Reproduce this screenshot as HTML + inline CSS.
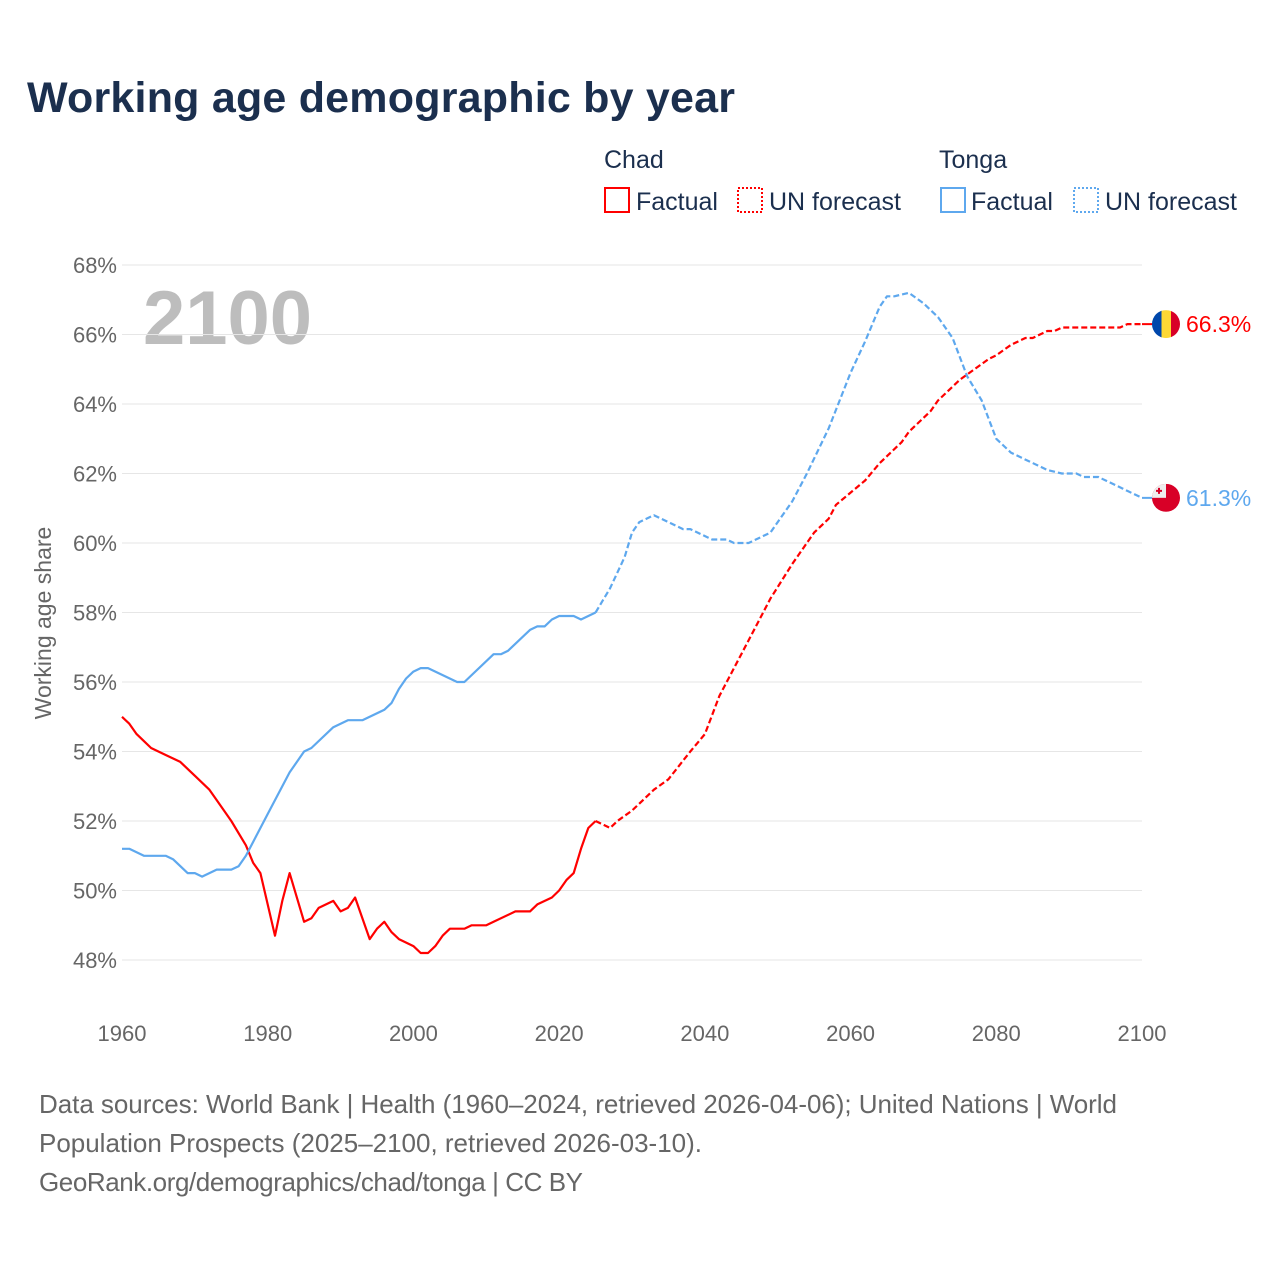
<!DOCTYPE html>
<html><head><meta charset="utf-8"><style>
body{margin:0;background:#fff;font-family:"Liberation Sans",sans-serif;}
svg text{font-family:"Liberation Sans",sans-serif;}
</style></head><body>
<svg width="1280" height="1280" viewBox="0 0 1280 1280" id="c">
<rect width="1280" height="1280" fill="#fff"/>
<text x="27" y="112" font-size="43" font-weight="bold" fill="#1b2f4e" textLength="708">Working age demographic by year</text>
<g font-size="25" fill="#1b2f4e">
<text x="604" y="168">Chad</text>
<text x="939" y="168">Tonga</text>
<rect x="605" y="188" width="24" height="24" fill="none" stroke="#f00" stroke-width="2"/>
<text x="636" y="210">Factual</text>
<rect x="738" y="188" width="24" height="24" fill="none" stroke="#f00" stroke-width="2" stroke-dasharray="2,2"/>
<text x="769" y="210">UN forecast</text>
<rect x="941" y="188" width="24" height="24" fill="none" stroke="#5ea8ee" stroke-width="2"/>
<text x="971" y="210">Factual</text>
<rect x="1074" y="188" width="24" height="24" fill="none" stroke="#5ea8ee" stroke-width="2" stroke-dasharray="2,2"/>
<text x="1105" y="210">UN forecast</text>
</g>
<text x="143" y="344" font-size="76" font-weight="bold" fill="#bdbdbd">2100</text>
<text transform="translate(51,623) rotate(-90)" text-anchor="middle" font-size="23" fill="#666">Working age share</text>
<g id="grid"></g><g id="lines"></g>
<g font-size="26" fill="#666">
<text x="39" y="1113" textLength="1078">Data sources: World Bank | Health (1960–2024, retrieved 2026-04-06); United Nations | World</text>
<text x="39" y="1152" textLength="663">Population Prospects (2025–2100, retrieved 2026-03-10).</text>
<text x="39" y="1191" textLength="544">GeoRank.org/demographics/chad/tonga | CC BY</text>
</g>
</svg>
<script>
const yTicks=[48,50,52,54,56,58,60,62,64,66,68];
const xTicks=[1960,1980,2000,2020,2040,2060,2080,2100];
const chadFactYears=[1960,1961,1962,1963,1964,1966,1968,1970,1972,1973,1975,1977,1978,1979,1981,1982,1983,1985,1986,1987,1989,1990,1991,1992,1994,1995,1996,1997,1998,2000,2001,2002,2003,2004,2005,2007,2008,2010,2011,2014,2016,2017,2019,2020,2021,2022,2023,2024,2025];
const chadFactVals=[55.0,54.8,54.5,54.3,54.1,53.9,53.7,53.3,52.9,52.6,52.0,51.3,50.8,50.5,48.7,49.7,50.5,49.1,49.2,49.5,49.7,49.4,49.5,49.8,48.6,48.9,49.1,48.8,48.6,48.4,48.2,48.2,48.4,48.7,48.9,48.9,49.0,49.0,49.1,49.4,49.4,49.6,49.8,50.0,50.3,50.5,51.2,51.8,52.0];
const chadFcYears=[2025,2027,2028,2030,2033,2035,2038,2040,2042,2045,2047,2049,2052,2055,2057,2058,2062,2064,2067,2068,2071,2072,2075,2077,2079,2080,2082,2084,2085,2087,2088,2089,2097,2098,2100];
const chadFcVals=[52.0,51.8,52.0,52.3,52.9,53.2,54.0,54.5,55.6,56.8,57.6,58.4,59.4,60.3,60.7,61.1,61.8,62.3,62.9,63.2,63.8,64.1,64.7,65.0,65.3,65.4,65.7,65.9,65.9,66.1,66.1,66.2,66.2,66.3,66.3];
const tongaFactYears=[1960,1961,1963,1966,1967,1969,1970,1971,1973,1975,1976,1977,1980,1983,1985,1986,1989,1991,1993,1996,1997,1998,1999,2000,2001,2002,2006,2007,2011,2012,2013,2016,2017,2018,2019,2020,2022,2023,2025];
const tongaFactVals=[51.2,51.2,51.0,51.0,50.9,50.5,50.5,50.4,50.6,50.6,50.7,51.0,52.2,53.4,54.0,54.1,54.7,54.9,54.9,55.2,55.4,55.8,56.1,56.3,56.4,56.4,56.0,56.0,56.8,56.8,56.9,57.5,57.6,57.6,57.8,57.9,57.9,57.8,58.0];
const tongaFcYears=[2025,2027,2029,2030,2031,2033,2035,2037,2038,2041,2043,2044,2046,2049,2050,2052,2054,2057,2060,2062,2064,2065,2066,2068,2070,2072,2074,2076,2078,2080,2082,2084,2086,2087,2089,2091,2092,2094,2096,2098,2099,2100];
const tongaFcVals=[58.0,58.7,59.6,60.3,60.6,60.8,60.6,60.4,60.4,60.1,60.1,60.0,60.0,60.3,60.6,61.2,62.0,63.3,64.9,65.8,66.8,67.1,67.1,67.2,66.9,66.5,65.9,64.8,64.1,63.0,62.6,62.4,62.2,62.1,62.0,62.0,61.9,61.9,61.7,61.5,61.4,61.3];
const NS='http://www.w3.org/2000/svg';
const X=y=>122+(y-1960)*(1020/140);
const Y=v=>960-(v-48)*(695/20);
const grid=document.getElementById('grid'),lines=document.getElementById('lines');
function mk(tag,attrs,parent){const e=document.createElementNS(NS,tag);for(const k in attrs)e.setAttribute(k,attrs[k]);parent.appendChild(e);return e;}
yTicks.forEach(t=>{
 const l=mk('line',{x1:122,x2:1142,y1:Y(t),y2:Y(t),stroke:'#e6e6e6','stroke-width':1},grid);
 
 
 const tx=mk('text',{x:117,y:Y(t)+8,'text-anchor':'end','font-size':22,fill:'#666'},grid);
 tx.textContent=t+'%';
 
 
});
xTicks.forEach(t=>{
 const tx=mk('text',{x:X(t),y:1041,'text-anchor':'middle','font-size':22,fill:'#666'},grid);
 tx.textContent=t;
 
 
});
function line(ys,vs,color,dash,name){
 const d=ys.map((y,i)=>(i?'L':'M')+X(y).toFixed(1)+','+Y(vs[i]).toFixed(1)).join('');
 const p=mk('path',{d:d,fill:'none',stroke:color,'stroke-width':2.2,'stroke-linejoin':'round'},lines);
 if(dash)p.setAttribute('stroke-dasharray','6,3');
 
 
}
line(chadFactYears,chadFactVals,'#f00',false,'chad-factual-line');
line(chadFcYears,chadFcVals,'#f00',true,'chad-forecast-line');
line(tongaFactYears,tongaFactVals,'#5ea8ee',false,'tonga-factual-line');
line(tongaFcYears,tongaFcVals,'#5ea8ee',true,'tonga-forecast-line');
const cv=chadFcVals[chadFcVals.length-1],tv=tongaFcVals[tongaFcVals.length-1];
const cy=Y(cv),ty=Y(tv),cx=1166;
mk('line',{x1:X(2100),x2:cx,y1:cy,y2:cy,stroke:'#f00','stroke-width':2},lines);
mk('line',{x1:X(2100),x2:cx,y1:ty,y2:ty,stroke:'#5ea8ee','stroke-width':2},lines);
const defs=mk('defs',{},lines);
const cp1=mk('clipPath',{id:'cc'},defs);mk('circle',{cx:cx,cy:cy,r:14},cp1);
const cp2=mk('clipPath',{id:'tc'},defs);mk('circle',{cx:cx,cy:ty,r:14},cp2);
const fc=mk('g',{'clip-path':'url(#cc)'},lines);


mk('rect',{x:cx-14,y:cy-14,width:10,height:28,fill:'#0047ab'},fc);
mk('rect',{x:cx-4.5,y:cy-14,width:9.5,height:28,fill:'#fdd835'},fc);
mk('rect',{x:cx+5,y:cy-14,width:10,height:28,fill:'#d80027'},fc);
const ft=mk('g',{'clip-path':'url(#tc)'},lines);


mk('rect',{x:cx-14,y:ty-14,width:28,height:28,fill:'#d80027'},ft);
mk('rect',{x:cx-14,y:ty-14,width:14,height:14,fill:'#eee'},ft);
mk('path',{d:`M${cx-7},${ty-10}v6M${cx-10},${ty-7}h6`,stroke:'#d80027','stroke-width':2},ft);
const l1=mk('text',{x:1186,y:cy+8,'font-size':23,fill:'#f00'},lines);
l1.textContent=cv.toFixed(1)+'%';


const l2=mk('text',{x:1186,y:ty+8,'font-size':23,fill:'#5ea8ee'},lines);
l2.textContent=tv.toFixed(1)+'%';


</script>
</body></html>
